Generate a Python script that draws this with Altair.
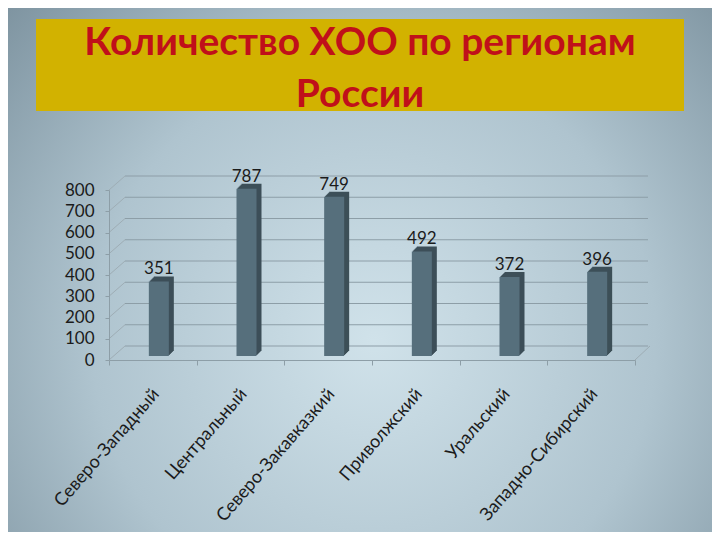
import altair as alt
import pandas as pd

# ---- data ----
regions = ["Северо-Западный", "Центральный", "Северо-Закавказкий",
           "Приволжский", "Уральский", "Западно-Сибирский"]
counts = [351, 787, 749, 492, 372, 396]
y_ticks = [0, 100, 200, 300, 400, 500, 600, 700, 800]
title_lines = ["Количество ХОО по регионам", "России"]

df = pd.DataFrame({"region": regions, "count": counts})
ticks_df = pd.DataFrame({"v": y_ticks})
one = pd.DataFrame({"k": [0]})

FONT = "Lato"
FRONT = "#566f7c"
SIDE = "#3d4f58"
GRID = "#8d9ea7"

yscale = alt.Scale(domain=[0, 800], nice=False, zero=True)
xscale = alt.Scale(paddingInner=0, paddingOuter=0)

xaxis = alt.Axis(labelAngle=-49, labelAlign="right", labelBaseline="middle",
                 labelFont=FONT, labelFontSize=18, labelColor="#1b1b1b",
                 labelPadding=26, labelOffset=3, tickBand="extent",
                 tickSize=5, tickColor=GRID, domainColor=GRID,
                 labelOverlap=False, zindex=1, title=None)
yaxis = alt.Axis(values=y_ticks, grid=False, labelFont=FONT, labelFontSize=17,
                 labelColor="#1b1b1b", labelPadding=11, tickSize=4,
                 tickColor=GRID, domainColor=GRID, zindex=1, title=None)

def X():
    return alt.X("region:N", sort=regions, scale=xscale, axis=xaxis, title=None)

def Y(field):
    return alt.Y(field, scale=yscale, axis=yaxis, title=None)

# background with radial gradient
bg = alt.Chart(one).mark_rect(
    fill=alt.RadialGradient(
        gradient="radial",
        stops=[alt.GradientStop(color="#d0e2ea", offset=0),
               alt.GradientStop(color="#afc4cf", offset=0.5),
               alt.GradientStop(color="#6f8592", offset=1)],
        x1=0.52, y1=0.6, r1=0, x2=0.52, y2=0.6, r2=0.8),
).encode(x=alt.value(-101), x2=alt.value(603), y=alt.value(-182), y2=alt.value(342))

# title box
box = alt.Chart(one).mark_rect(color="#d2b200").encode(
    x=alt.value(-73), x2=alt.value(575), y=alt.value(-171), y2=alt.value(-79))

title = alt.Chart(one).mark_text(
    font=FONT, fontSize=39, fontWeight="bold", color="#c0101a",
    align="center", baseline="alphabetic", lineHeight=52,
).encode(x=alt.value(251), y=alt.value(-135), text=alt.value(title_lines))

# back wall grid lines
back_grid = alt.Chart(ticks_df).mark_rule(color=GRID, strokeWidth=1.2, yOffset=-14).encode(
    y=Y("v:Q"), x=alt.value(16), x2=alt.value(539))

# side wall diagonals
diag = alt.Chart(ticks_df).mark_rule(color="#9eadb5", strokeWidth=1, y2Offset=-14).encode(
    y=Y("v:Q"), y2=alt.Y2("v:Q"), x=alt.value(0), x2=alt.value(16))

diag_r = alt.Chart(ticks_df).transform_filter("datum.v == 0").mark_rule(
    color="#9eadb5", strokeWidth=1, y2Offset=-14).encode(
    y=Y("v:Q"), y2=alt.Y2("v:Q"), x=alt.value(526), x2=alt.value(541))

layers = [bg, box, title, back_grid, diag, diag_r]

# extruded depth of bars
for k in [5, 4, 3, 2, 1]:
    layers.append(
        alt.Chart(df).mark_bar(size=20, color=SIDE, xOffset=6 + k, x2Offset=6 + k,
                               yOffset=-4 - k, y2Offset=-4 - k).encode(
            x=X(), y=Y("count:Q")))

front = alt.Chart(df).mark_bar(size=20, color=FRONT, xOffset=6, x2Offset=6,
                               yOffset=-4, y2Offset=-4).encode(x=X(), y=Y("count:Q"))

labels = alt.Chart(df).mark_text(font=FONT, fontSize=17, color="#1b1b1b",
                                 baseline="alphabetic", dy=-11, xOffset=6).encode(
    x=X(), y=Y("count:Q"), text="count:Q")

layers += [front, labels]

chart = alt.layer(*layers).properties(
    width=526, height=170,
    autosize=alt.AutoSizeParams(type="none"),
    padding={"left": 101, "top": 182, "right": 77, "bottom": 172},
).configure_view(stroke=None).configure(background="#a9bdc8")

chart.save("out.html", embed_options={"renderer": "svg", "actions": False})
